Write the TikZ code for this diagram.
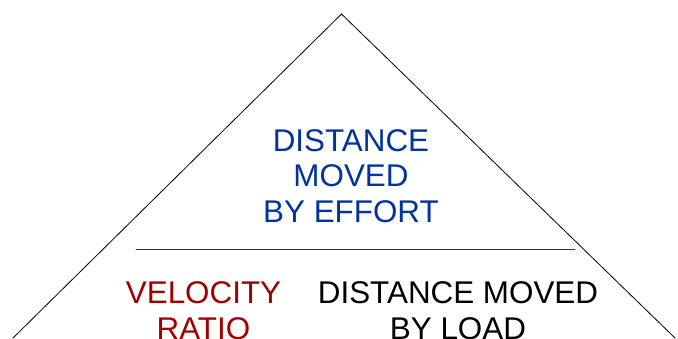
\documentclass[tikz,border=0pt]{standalone}
\usepackage{fontspec}
\setmainfont{Liberation Sans}
\usetikzlibrary{positioning}
\definecolor{vrBlue}{HTML}{0033A0}
\definecolor{vrRed} {HTML}{A00000}

\begin{document}
\begin{tikzpicture}[x=1bp,y=1bp,
        lbl/.style={font=\fontsize{31.5}{35.2}\selectfont,align=center,
                    inner sep=0pt,anchor=base},
        edge/.style={line width=0.8bp,line cap=round}]
        \clip (0,0) rectangle (678,338);
        \coordinate (apex) at (341.5,324);
        \coordinate (bl) at (13,0);
        \coordinate (br) at (675,0);
        \coordinate (dl) at (136,89);
        \coordinate (dr) at (575,89);
        \draw[edge] (bl) -- (apex) -- (br);
        \draw[edge,black!80] (dl) -- (dr);
        \node[lbl,text=vrBlue] (effort) at (351,116) {DISTANCE\\MOVED\\BY EFFORT};
        \node[lbl,text=vrRed] (ratio) at (203.5,-1) {VELOCITY\\RATIO};
        \node[lbl] (load) at (458,-1) {DISTANCE MOVED\\BY LOAD};
      \end{tikzpicture}
\end{document}
